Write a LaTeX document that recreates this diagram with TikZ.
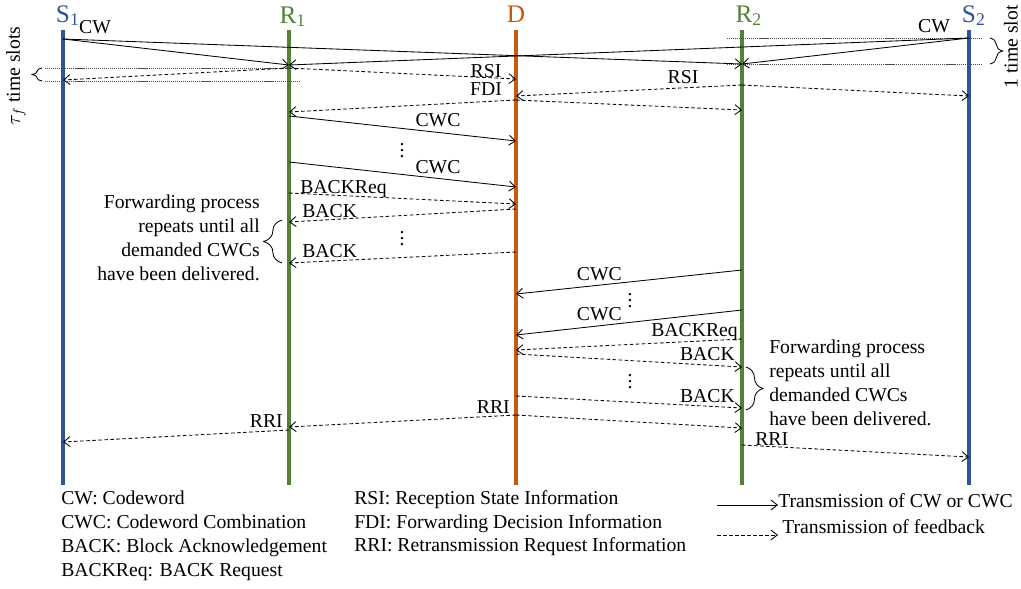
\documentclass[tikz,border=0pt]{standalone}
\usepackage{fontspec}
\setmainfont{Liberation Serif}
\usetikzlibrary{arrows.meta, decorations.pathreplacing}
\definecolor{sblue}{RGB}{47,85,151}
\definecolor{rgreen}{RGB}{84,130,53}
\definecolor{dorange}{RGB}{197,90,17}

\begin{document}
\begin{tikzpicture}[x=0.025cm, y=-0.025cm,
  txt/.style={inner sep=0pt, font=\fontsize{14}{17}\selectfont},
  head/.style={inner sep=0pt, anchor=base, font=\fontsize{18}{21}\selectfont},
  lifeline/.style={line width=2.3pt},
  msg/.style={line width=0.6pt, -{Straight Barb[length=4.5pt,width=7pt]}},
  fb/.style={msg, dash pattern=on 2.5pt off 1.8pt},
  slot/.style={line width=0.6pt, black!70, dash pattern=on 0.8pt off 0.6pt},
  br/.style={decorate, line width=0.6pt}]
\useasboundingbox (0,0) rectangle (1021,588);

% lifelines
\coordinate (s1) at (63,30);
\coordinate (r1) at (289,30);
\coordinate (d) at (516,30);
\coordinate (r2) at (742,30);
\coordinate (s2) at (969,30);
\foreach \p/\c in {s1/sblue, r1/rgreen, d/dorange, r2/rgreen, s2/sblue}
  \draw[lifeline, \c] (\p) -- (\p |- 0,485);
\node[head, sblue] (s1lbl) at (63,22) {S\rlap{\textsubscript{1}}};
\node[head, rgreen] (r1lbl) at (288,23) {R\rlap{\textsubscript{1}}};
\node[head, dorange] (dlbl) at (516,22) {D};
\node[head, rgreen] (r2lbl) at (744,22) {R\rlap{\textsubscript{2}}};
\node[head, sblue] (s2lbl) at (969,22) {S\rlap{\textsubscript{2}}};

% time slots
\draw[slot] (45,68) -- (289,68);
\draw[slot] (45,81) -- (300,81);
\draw[br, decoration={brace, amplitude=7pt}] (42,81) -- (42,68);
\node[txt, rotate=90] (tauf) at (16,76) {$\tau_f$ time slots};
\draw[slot] (727,38) -- (982,38);
\draw[slot] (727,64) -- (982,64);
\draw[br, decoration={brace, amplitude=9pt}] (990,38) -- (990,64);
\node[txt, rotate=90] (oneslot) at (1011,47) {1 time slot};

% codewords
\node[txt, anchor=base] (cw1) at (95,33) {CW};
\node[txt, anchor=base] (cw2) at (934,32) {CW};
\draw[msg] (s1 |- 0,39) -- (r1 |- 0,65);
\draw[msg] (s1 |- 0,39) -- (r2 |- 0,64);
\draw[msg] (s2 |- 0,38) -- (r2 |- 0,64);
\draw[msg] (s2 |- 0,38) -- (r1 |- 0,65);

% RSI and FDI
\draw[fb] (r1 |- 0,68) -- (s1 |- 0,80);
\draw[fb] (r1 |- 0,68) -- (d |- 0,79);
\node[txt, anchor=base] (rsi1) at (486,77) {RSI};
\draw[fb] (r2 |- 0,85) -- (d |- 0,96);
\draw[fb] (r2 |- 0,85) -- (s2 |- 0,96);
\node[txt, anchor=base] (rsi2) at (683,83) {RSI};
\draw[fb] (d |- 0,100) -- (r1 |- 0,112);
\draw[fb] (d |- 0,100) -- (r2 |- 0,110);
\node[txt, anchor=base] (fdi) at (486,95) {FDI};

% R1 forwards to D
\draw[msg] (r1 |- 0,116) -- (d |- 0,141);
\node[txt, anchor=base] (cwc1) at (438,126) {CWC};
\node[txt, anchor=base] at (402,157) {$\vdots$};
\draw[msg] (r1 |- 0,162) -- (d |- 0,187);
\node[txt, anchor=base] (cwc2) at (438,173) {CWC};
\draw[fb] (r1 |- 0,193) -- (d |- 0,204);
\node[txt, anchor=base west] (breq1) at (300,193) {BACKReq};
\draw[fb] (d |- 0,209) -- (r1 |- 0,222);
\node[txt, anchor=base west] (back1) at (302,217) {BACK};
\node[txt, anchor=base] at (402,245) {$\vdots$};
\draw[fb] (d |- 0,252) -- (r1 |- 0,263);
\node[txt, anchor=base west] (back2) at (302,257) {BACK};
\draw[br, decoration={brace, amplitude=13pt}] (282,263) -- (282,220);
\node[txt, align=right, anchor=east] (fwd1) at (260,238)
  {Forwarding process\\repeats until all\\demanded CWCs\\have been delivered.};

% R2 forwards to D
\draw[msg] (r2 |- 0,270) -- (d |- 0,294);
\node[txt, anchor=base east] (cwc3) at (622,280) {CWC};
\node[txt, anchor=base] at (630,307) {$\vdots$};
\draw[msg] (r2 |- 0,310) -- (d |- 0,335);
\node[txt, anchor=base east] (cwc4) at (622,320) {CWC};
\draw[fb] (r2 |- 0,339) -- (d |- 0,350);
\node[txt, anchor=base east] (breq2) at (738,336) {BACKReq};
\draw[fb] (d |- 0,354) -- (r2 |- 0,367);
\node[txt, anchor=base east] (back3) at (735,360) {BACK};
\node[txt, anchor=base] at (630,388) {$\vdots$};
\draw[fb] (d |- 0,396) -- (r2 |- 0,408);
\node[txt, anchor=base east] (back4) at (735,402) {BACK};
\draw[br, decoration={brace, amplitude=12pt}] (746,367) -- (746,410);
\node[txt, align=left, anchor=west] (fwd2) at (769,383)
  {Forwarding process\\repeats until all\\demanded CWCs\\have been delivered.};

% RRI
\draw[fb] (d |- 0,415) -- (r1 |- 0,427);
\draw[fb] (d |- 0,415) -- (r2 |- 0,428);
\node[txt, anchor=base east] (rri1) at (510,413) {RRI};
\draw[fb] (r1 |- 0,430) -- (s1 |- 0,442);
\node[txt, anchor=base east] (rri2) at (283,427) {RRI};
\draw[fb] (r2 |- 0,445) -- (s2 |- 0,457);
\node[txt, anchor=base west] (rri3) at (755,445) {RRI};

% legend
\node[txt, align=left, anchor=north west] (abbr1) at (61,490.5)
  {CW: Codeword\\CWC: Codeword Combination\\BACK: Block Acknowledgement\\BACKReq: BACK Request};
\node[txt, align=left, anchor=north west] (abbr2) at (354,490)
  {RSI: Reception State Information\\FDI: Forwarding Decision Information\\RRI: Retransmission Request Information};
\node[txt, anchor=base west] (leg1) at (778,507) {Transmission of CW or CWC};
\node[txt, anchor=base west] (leg2) at (782,533) {Transmission of feedback};
\coordinate (la1) at (717,505);
\coordinate (la2) at (717,535);
\draw[msg] (la1) -- (la1 -| leg1.west);
\draw[fb] (la2) -- (la2 -| leg1.west);
\end{tikzpicture}
\end{document}
